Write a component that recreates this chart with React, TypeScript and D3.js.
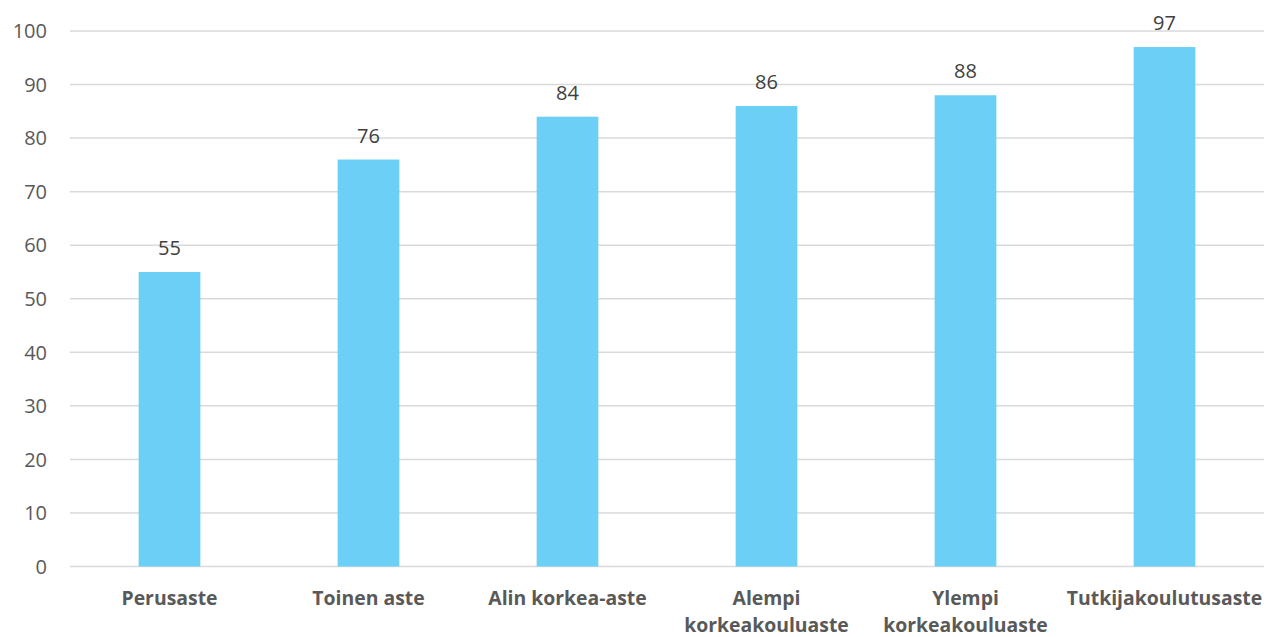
import React from "react";
import * as d3 from "d3";

const categories: string[][] = [
  ["Perusaste"],
  ["Toinen aste"],
  ["Alin korkea-aste"],
  ["Alempi", "korkeakouluaste"],
  ["Ylempi", "korkeakouluaste"],
  ["Tutkijakoulutusaste"],
];
const values: number[] = [55, 76, 84, 86, 88, 97];
const yTicks: number[] = [0, 10, 20, 30, 40, 50, 60, 70, 80, 90, 100];

const W = 1266;
const H = 637;
const left = 70;
const right = 1264;
const top = 31;
const bottom = 566.5;
const font = "'Open Sans', sans-serif";

export default function App() {
  const keys = categories.map((c) => c.join(" "));
  const x = d3.scaleBand<string>().domain(keys).range([left, right]).paddingInner(0.69).paddingOuter(0.345);
  const y = d3.scaleLinear().domain([0, 100]).range([bottom, top]);
  return (
    <svg width={W} height={H} style={{ position: "absolute", left: 0, top: 0 }}>
      <rect width={W} height={H} fill="#fff" />
      {yTicks.map((t) => (
        <g key={t}>
          <line x1={left} x2={right} y1={y(t)} y2={y(t)} stroke="#d9d9d9" strokeWidth={1.5} />
          <text x={47} y={y(t)} dy="0.36em" textAnchor="end" fontFamily={font} fontSize={20} fill="#595959">
            {t}
          </text>
        </g>
      ))}
      {values.map((v, i) => {
        const k = keys[i];
        const cx = x(k)! + x.bandwidth() / 2;
        return (
          <g key={k}>
            <rect x={x(k)} y={y(v)} width={x.bandwidth()} height={y(0) - y(v)} fill="#6BCFF6" />
            <text x={cx} y={y(v) - 17} textAnchor="middle" fontFamily={font} fontSize={20} fill="#404040">
              {v}
            </text>
            {categories[i].map((line, j) => (
              <text key={j} x={cx} y={605 + j * 27} textAnchor="middle" fontFamily={font} fontSize={19.4} fontWeight="bold" fill="#595959">
                {line}
              </text>
            ))}
          </g>
        );
      })}
    </svg>
  );
}
